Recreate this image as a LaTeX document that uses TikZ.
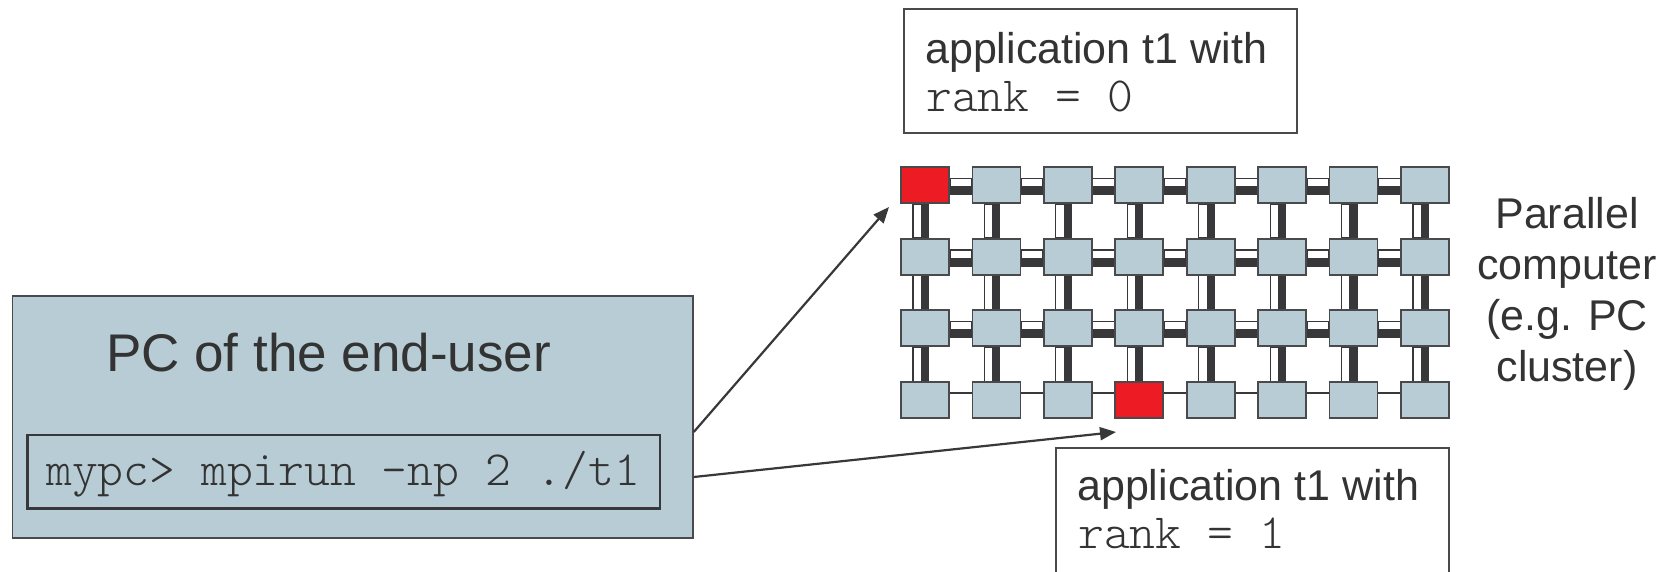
\documentclass[tikz,border=0pt]{standalone}
\usepackage{fontspec}
\setmainfont{Liberation Sans}
\newfontfamily\lmlight{Latin Modern Mono Light}
\usetikzlibrary{arrows.meta,backgrounds,calc}
\definecolor{gfill}{HTML}{B8CCD5}
\definecolor{rfill}{HTML}{ED1C24}
\definecolor{dk}{HTML}{38373A}
\definecolor{edge}{HTML}{4A4A4C}
\definecolor{txt}{HTML}{333333}
\tikzset{
  gbox/.style={draw=edge, line width=1.8pt, fill=gfill, minimum width=48pt, minimum height=36pt, inner sep=0pt},
  rbox/.style={gbox, fill=rfill},
  band/.style={draw=dk, line width=1.2pt, fill=white},
  bar/.style={fill=dk, draw=none},
  link/.style={draw=dk, line width=1.8pt},
  arr/.style={draw=dk, line width=2.2pt, -{Triangle[length=16pt,width=13pt]}},
  lbl/.style={text=txt, inner sep=0pt, anchor=base west},
  sanssmall/.style={font=\fontsize{43}{51}\selectfont},
  monotext/.style={font=\lmlight\fontsize{49.2}{55}\selectfont},
  textbox/.style={draw=edge, line width=2.4pt, fill=white, inner sep=0pt},
}
\begin{document}
\begin{tikzpicture}[x=1pt,y=-1pt]
\useasboundingbox (0,0) rectangle (1675,571);

% PC of the end-user
\node[draw=edge, line width=1.5pt, fill=gfill, minimum width=680.5pt, minimum height=242pt, inner sep=0pt] (pc) at (352.75,417) {};
\node[draw=dk, line width=2.5pt, minimum width=632.7pt, minimum height=73.5pt, inner sep=0pt] (cmdbox) at (343.7,471.7) {};
\node[lbl, font=\fontsize{53}{60}\selectfont] (pctxt) at (106,371) {PC of the end-user};
\node[lbl, monotext] (cmd) at (46,485) {mypc> mpirun -np 2 ./t1};

% grid of processors
\foreach \i in {0,...,7} {
  \foreach \j in {0,...,3} {
    \def\st{gbox}
    \ifnum\i=0 \ifnum\j=0 \def\st{rbox}\fi\fi
    \ifnum\i=3 \ifnum\j=3 \def\st{rbox}\fi\fi
    \node[\st] (g\i\j) at ({925+71.43*\i},{185+71.67*\j}) {};
  }
}
\begin{pgfonlayer}{background}
  \foreach \j in {0,1,2} {
    \foreach \i [evaluate=\i as \n using int(\i+1)] in {0,...,6} {
      \path[band] ($(g\i\j.east)+(0,-6.7)$) rectangle ($(g\n\j.west)+(0,1.7)$);
      \path[bar] ($(g\i\j.east)+(0,1.7)$) rectangle ($(g\n\j.west)+(0,10)$);
    }
  }
  \foreach \i in {0,...,7} {
    \foreach \j [evaluate=\j as \m using int(\j+1)] in {0,1,2} {
      \path[band] ($(g\i\j.south)+(-12,0)$) rectangle ($(g\i\m.north)+(-3.5,0)$);
      \path[bar] ($(g\i\j.south)+(-3.5,0)$) rectangle ($(g\i\m.north)+(4,0)$);
    }
  }
  \foreach \i [evaluate=\i as \n using int(\i+1)] in {0,...,6} {
    \draw[link] ($(g\i3.east)+(0,-7)$) -- ($(g\n3.west)+(0,-7)$);
  }
\end{pgfonlayer}

% label of the parallel computer
\node[text=txt, align=center, sanssmall, inner sep=0pt, anchor=base] (par) at (1567,381) {Parallel\\computer\\(e.g. PC\\cluster)};

% application boxes
\node[textbox, minimum width=393pt, minimum height=124pt] (top) at (1100.5,71) {};
\node[lbl, sanssmall] (t0a) at (925,63) {application t1 with};
\node[lbl, monotext] (t0b) at (926,111) {rank = 0};

\begin{scope}
  \clip (0,0) rectangle (1675,571);
  \node[textbox, minimum width=393pt, minimum height=130pt] (bot) at (1252.5,513) {};
\end{scope}
\node[lbl, sanssmall] (t1a) at (1077,500) {application t1 with};
\node[lbl, monotext] (t1b) at (1078,548) {rank = 1};

% arrows
\coordinate (a1s) at ($(pc.east)+(0,15)$);
\coordinate (a1e) at (889,207);
\coordinate (a2s) at ($(pc.east)+(0,60)$);
\coordinate (a2e) at (1116,432);
\draw[arr] (a1s) -- (a1e);
\draw[arr] (a2s) -- (a2e);
\end{tikzpicture}
\end{document}
